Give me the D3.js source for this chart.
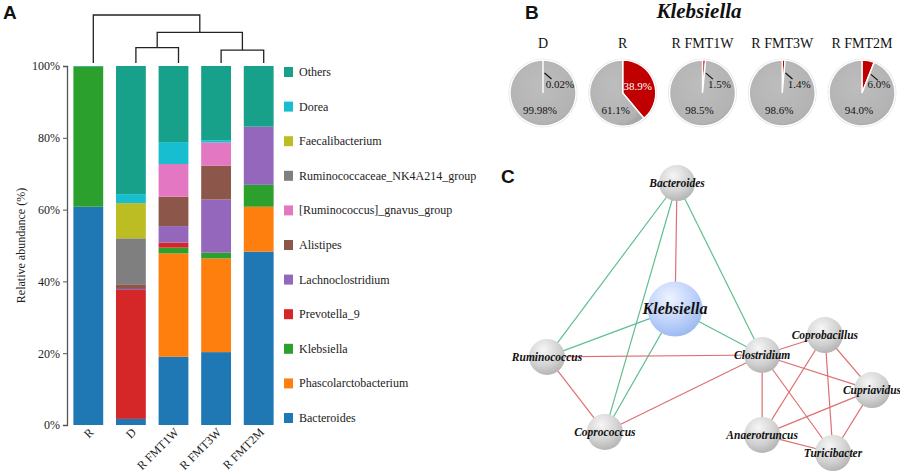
<!DOCTYPE html>
<html>
<head>
<meta charset="utf-8">
<script src="https://cdn.jsdelivr.net/npm/d3@7"></script>
<style>
  body { margin: 0; background: #fff; }
  svg { display: block; }
</style>
</head>
<body>
<script>
// ---- panel A data ----
var samples = ["R", "D", "R FMT1W", "R FMT3W", "R FMT2M"];
var genera = ["Bacteroides", "Phascolarctobacterium", "Klebsiella", "Prevotella_9", "Lachnoclostridium",
    "Alistipes", "[Ruminococcus]_gnavus_group", "Ruminococcaceae_NK4A214_group", "Faecalibacterium", "Dorea", "Others"];
var generaColors = ["#1f77b4", "#ff7f0e", "#2ca02c", "#d62728", "#9467bd",
    "#8c564b", "#e377c2", "#7f7f7f", "#bcbd22", "#17becf", "#17a08a"];
var bacteroides = [60.8, 1.7, 19.0, 20.3, 48.3];
var phascolarcto = [0, 0, 28.8, 26.1, 12.5];
var klebsiella = [39.0, 0, 1.6, 1.6, 6.1];
var prevotella9 = [0, 35.9, 1.4, 0, 0];
var lachnoclostridium = [0, 0.3, 4.6, 14.8, 16.2];
var alistipes = [0, 1.3, 8.2, 9.4, 0];
var gnavus = [0, 0, 9.1, 6.5, 0];
var ruminococcaceae = [0, 12.8, 0, 0, 0];
var faecalibacterium = [0, 9.8, 0, 0, 0];
var dorea = [0, 2.5, 6.1, 0.6, 0];
var others = [0.2, 35.7, 21.2, 20.7, 16.9];
var yTicks = [0, 20, 40, 60, 80, 100];

// dendrogram: merges as [left, right, height]; leaves are sample indexes, "c" + n are earlier merges
var merges = [[1, 2, 0.32], [3, 4, 0.27], ["c0", "c1", 0.64], [0, "c2", 1.0]];

// ---- panel B data ----
var pieGroups = ["D", "R", "R FMT1W", "R FMT3W", "R FMT2M"];
var klebPct = [0.02, 38.9, 1.5, 1.4, 6.0];
var klebLabels = ["0.02%", "38.9%", "1.5%", "1.4%", "6.0%"];
var restLabels = ["99.98%", "61.1%", "98.5%", "98.6%", "94.0%"];

// ---- panel C data (layout units) ----
var nodeNames = ["Bacteroides", "Klebsiella", "Ruminococcus", "Coprococcus", "Clostridium",
    "Coprobacillus", "Cupriavidus", "Anaerotruncus", "Turicibacter"];
var nodeX = [4.0, 3.94, 0, 1.78, 6.62, 8.55, 10, 6.62, 8.8];
var nodeY = [0, 4.67, 6.44, 9.22, 6.37, 5.63, 7.67, 9.33, 10];
var edges = [
    ["Bacteroides", "Ruminococcus", "neg"], ["Bacteroides", "Coprococcus", "neg"],
    ["Bacteroides", "Clostridium", "neg"], ["Bacteroides", "Klebsiella", "pos"],
    ["Klebsiella", "Ruminococcus", "neg"], ["Klebsiella", "Coprococcus", "neg"],
    ["Klebsiella", "Clostridium", "neg"],
    ["Ruminococcus", "Clostridium", "pos"], ["Ruminococcus", "Coprococcus", "pos"],
    ["Coprococcus", "Clostridium", "pos"], ["Clostridium", "Coprobacillus", "pos"],
    ["Clostridium", "Cupriavidus", "pos"], ["Clostridium", "Anaerotruncus", "pos"],
    ["Clostridium", "Turicibacter", "pos"], ["Coprobacillus", "Anaerotruncus", "pos"],
    ["Coprobacillus", "Turicibacter", "pos"], ["Coprobacillus", "Cupriavidus", "pos"],
    ["Cupriavidus", "Anaerotruncus", "pos"], ["Cupriavidus", "Turicibacter", "pos"],
    ["Anaerotruncus", "Turicibacter", "pos"]
];

var serif = "'Liberation Serif', 'Times New Roman', serif";
var sans = "'Liberation Sans', Arial, sans-serif";

var svg = d3.select("body").append("svg")
    .attr("width", 900)
    .attr("height", 475);

var defs = svg.append("defs");
var gGrey = defs.append("radialGradient").attr("id", "nodeGrey")
    .attr("cx", "40%").attr("cy", "30%").attr("r", "75%");
gGrey.append("stop").attr("offset", "0%").attr("stop-color", "#f6f6f6");
gGrey.append("stop").attr("offset", "60%").attr("stop-color", "#d2d2d2");
gGrey.append("stop").attr("offset", "100%").attr("stop-color", "#b0b0b0");
var gBlue = defs.append("radialGradient").attr("id", "nodeBlue")
    .attr("cx", "40%").attr("cy", "30%").attr("r", "75%");
gBlue.append("stop").attr("offset", "0%").attr("stop-color", "#eef3ff");
gBlue.append("stop").attr("offset", "60%").attr("stop-color", "#bcd1fa");
gBlue.append("stop").attr("offset", "100%").attr("stop-color", "#98b6ee");
var gPie = defs.append("radialGradient").attr("id", "pieGrey")
    .attr("cx", "45%").attr("cy", "40%").attr("r", "65%");
gPie.append("stop").attr("offset", "0%").attr("stop-color", "#bdbdbd");
gPie.append("stop").attr("offset", "85%").attr("stop-color", "#b3b3b3");
gPie.append("stop").attr("offset", "100%").attr("stop-color", "#a6a6a6");

// ================= panel A =================
var series = [bacteroides, phascolarcto, klebsiella, prevotella9, lachnoclostridium, alistipes,
    gnavus, ruminococcaceae, faecalibacterium, dorea, others];
var table = samples.map(function(s, i) {
    var row = { sample: s };
    genera.forEach(function(g, j) { row[g] = series[j][i]; });
    return row;
});

var xScale = d3.scaleBand()
    .domain(samples)
    .range([67, 280])
    .paddingInner(0.3)
    .paddingOuter(0.15);

var yScale = d3.scaleLinear()
    .domain([0, 100])
    .range([425, 66]);

var stacked = d3.stack().keys(genera)(table);

var barG = svg.append("g");
barG.selectAll("g")
    .data(stacked)
    .enter()
    .append("g")
    .attr("fill", function(d, i) { return generaColors[i]; })
    .selectAll("rect")
    .data(function(d) { return d; })
    .enter()
    .append("rect")
    .attr("x", function(d) { return xScale(d.data.sample); })
    .attr("width", xScale.bandwidth())
    .attr("y", function(d) { return yScale(d[1]); })
    .attr("height", function(d) { return Math.max(0, yScale(d[0]) - yScale(d[1])); });

// y axis
var yAxis = d3.axisLeft(yScale)
    .tickValues(yTicks)
    .tickSize(4)
    .tickFormat(function(d) { return d + "%"; });
var yG = svg.append("g")
    .attr("transform", "translate(67,0)")
    .call(yAxis);
yG.select(".domain").attr("stroke", "#555").attr("stroke-width", 1.3);
yG.selectAll(".tick line").attr("stroke", "#555");
yG.selectAll(".tick text")
    .attr("x", -7)
    .style("font-family", serif)
    .style("font-size", "12px")
    .attr("fill", "#222");

svg.append("text")
    .attr("transform", "translate(25," + ((yScale(0) + yScale(100)) / 2) + ") rotate(-90)")
    .style("text-anchor", "middle")
    .style("font-family", serif)
    .style("font-size", "12px")
    .attr("fill", "#222")
    .text("Relative abundance (%)");

// x labels
svg.append("g")
    .selectAll("text")
    .data(samples)
    .enter()
    .append("text")
    .attr("transform", function(d) {
        return "translate(" + (xScale(d) + xScale.bandwidth() / 2 + 6) + ",433) rotate(-45)";
    })
    .style("text-anchor", "end")
    .style("font-family", serif)
    .style("font-size", "12px")
    .attr("fill", "#222")
    .text(function(d) { return d; });

// dendrogram
var dendY = d3.scaleLinear().domain([0, 1]).range([63, 15]);
var leafX = function(i) { return xScale(samples[i]) + xScale.bandwidth() / 2 + 5; };
var clusters = [];
var dendG = svg.append("g")
    .attr("fill", "none")
    .attr("stroke", "#222")
    .attr("stroke-width", 1.3);
function nodeInfo(k) {
    if (typeof k === "number") return { x: leafX(k), h: 0 };
    return clusters[+k.slice(1)];
}
merges.forEach(function(m) {
    var a = nodeInfo(m[0]), b = nodeInfo(m[1]);
    var yTop = dendY(m[2]);
    dendG.append("path")
        .attr("d", "M" + a.x + "," + dendY(a.h) + "V" + yTop + "H" + b.x + "V" + dendY(b.h));
    clusters.push({ x: (a.x + b.x) / 2, h: m[2] });
});

// legend (top to bottom = reverse stacking order)
var legendOrder = genera.slice().reverse();
var legendY = d3.scalePoint().domain(legendOrder).range([72, 418]);
var legG = svg.append("g");
var legItem = legG.selectAll("g")
    .data(legendOrder)
    .enter()
    .append("g")
    .attr("transform", function(d) { return "translate(284," + legendY(d) + ")"; });
legItem.append("rect")
    .attr("x", 0)
    .attr("y", -5)
    .attr("width", 9)
    .attr("height", 10)
    .attr("fill", function(d) { return generaColors[genera.indexOf(d)]; });
legItem.append("text")
    .attr("x", 15)
    .attr("y", 4)
    .style("font-family", serif)
    .style("font-size", "12px")
    .attr("fill", "#222")
    .text(function(d) { return d; });

// panel letters
[["A", 3, 19], ["B", 525, 19], ["C", 501, 183]].forEach(function(p) {
    svg.append("text")
        .attr("x", p[1])
        .attr("y", p[2])
        .style("font-family", sans)
        .style("font-weight", "bold")
        .style("font-size", "19px")
        .attr("fill", "#111")
        .text(p[0]);
});

// ================= panel B =================
svg.append("text")
    .attr("x", 699)
    .attr("y", 18)
    .style("text-anchor", "middle")
    .style("font-family", serif)
    .style("font-weight", "bold")
    .style("font-style", "italic")
    .style("font-size", "21px")
    .attr("fill", "#111")
    .text("Klebsiella");

var pieX = d3.scalePoint().domain(pieGroups).range([543, 862]);
var pieR = 33, pieCY = 93;
var pie = d3.pie().sort(null);
var arc = d3.arc().innerRadius(0).outerRadius(pieR);

pieGroups.forEach(function(g, i) {
    var cx = pieX(g);
    var pg = svg.append("g").attr("transform", "translate(" + cx + "," + pieCY + ")");
    pg.append("circle")
        .attr("r", pieR + 1.5)
        .attr("fill", "#e6e6e6");
    pg.selectAll("path")
        .data(pie([klebPct[i], 100 - klebPct[i]]))
        .enter()
        .append("path")
        .attr("d", arc)
        .attr("fill", function(d, j) { return j === 0 ? "#c00000" : "url(#pieGrey)"; })
        .attr("stroke", "#fff")
        .attr("stroke-width", 1.4);

    pg.append("text")
        .attr("x", 0)
        .attr("y", -45)
        .style("text-anchor", "middle")
        .style("font-family", serif)
        .style("font-size", "14px")
        .attr("fill", "#111")
        .text(g);

    var big = klebPct[i] > 20;
    if (big) {
        pg.append("text")
            .attr("x", 15)
            .attr("y", -3)
            .style("text-anchor", "middle")
            .style("font-family", serif)
            .style("font-size", "11px")
            .attr("fill", "#fff")
            .text(klebLabels[i]);
    } else {
        var edgeAng = (klebPct[i] / 100) * 2 * Math.PI;
        var sx = Math.sin(edgeAng) * 20 + 1.5, sy = -Math.cos(edgeAng) * 20;
        pg.append("line")
            .attr("x1", sx).attr("y1", sy)
            .attr("x2", sx + 7).attr("y2", sy + 6)
            .attr("stroke", "#111")
            .attr("stroke-width", 1.2);
        pg.append("text")
            .attr("x", 17)
            .attr("y", -5)
            .style("text-anchor", "middle")
            .style("font-family", serif)
            .style("font-size", "11px")
            .attr("fill", "#111")
            .text(klebLabels[i]);
    }
    pg.append("text")
        .attr("x", big ? -7 : -3)
        .attr("y", 21)
        .style("text-anchor", "middle")
        .style("font-family", serif)
        .style("font-size", "11px")
        .attr("fill", "#111")
        .text(restLabels[i]);
});

// ================= panel C =================
var netX = d3.scaleLinear().domain([0, 10]).range([547, 872]);
var netY = d3.scaleLinear().domain([0, 10]).range([183, 453]);
var nodes = nodeNames.map(function(n, i) {
    return { name: n, x: netX(nodeX[i]), y: netY(nodeY[i]), r: n === "Klebsiella" ? 27.5 : 18 };
});
var byName = {};
nodes.forEach(function(n) { byName[n.name] = n; });

svg.append("g")
    .selectAll("line")
    .data(edges)
    .enter()
    .append("line")
    .attr("x1", function(d) { return byName[d[0]].x; })
    .attr("y1", function(d) { return byName[d[0]].y; })
    .attr("x2", function(d) { return byName[d[1]].x; })
    .attr("y2", function(d) { return byName[d[1]].y; })
    .attr("stroke", function(d) { return d[2] === "pos" ? "#de6f72" : "#5fbf8f"; })
    .attr("stroke-width", 1.2);

var nodeG = svg.append("g")
    .selectAll("g")
    .data(nodes)
    .enter()
    .append("g")
    .attr("transform", function(d) { return "translate(" + d.x + "," + d.y + ")"; });
nodeG.append("circle")
    .attr("r", function(d) { return d.r; })
    .attr("fill", function(d) { return d.name === "Klebsiella" ? "url(#nodeBlue)" : "url(#nodeGrey)"; });
nodeG.append("text")
    .attr("y", function(d) { return d.name === "Klebsiella" ? 5 : 4; })
    .style("text-anchor", "middle")
    .style("font-family", serif)
    .style("font-weight", "bold")
    .style("font-style", "italic")
    .style("font-size", function(d) { return d.name === "Klebsiella" ? "16px" : "11.5px"; })
    .attr("fill", "#111")
    .text(function(d) { return d.name; });
</script>
</body>
</html>
